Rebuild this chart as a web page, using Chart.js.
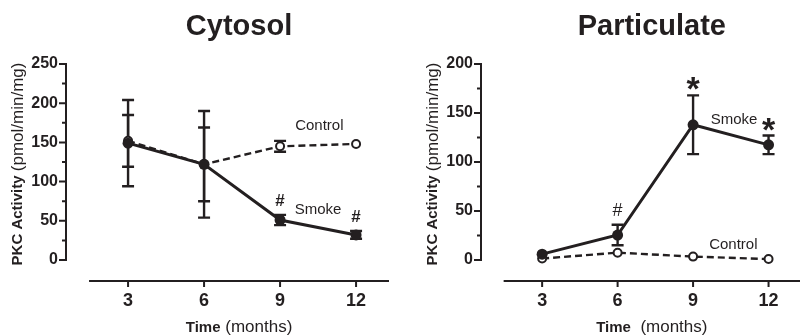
<!DOCTYPE html>
<html>
<head>
<meta charset="utf-8">
<script src="https://cdn.jsdelivr.net/npm/chart.js@4.4.0/dist/chart.umd.min.js"></script>
<style>
  html, body { margin: 0; padding: 0; background: #fff; }
  .panel { position: absolute; top: 0; width: 403px; height: 335px; }
  #left { left: 0; }
  #right { left: 403px; }
</style>
</head>
<body>
<div class="panel" id="left"><canvas id="cytosol" width="403" height="335"></canvas></div>
<div class="panel" id="right"><canvas id="particulate" width="403" height="335"></canvas></div>
<script>
// time points (months)
const months = [3, 6, 9, 12];

// Cytosol panel
const cytoSmoke = [149, 122, 51, 32];
const cytoSmokeErr = [55, 68, 6.5, 5];
const cytoControl = [152, 122, 145, 148];
const cytoControlErr = [33, 47, 7, 0];
const cytoSig = ['', '', '#', '#'];
const cytoYTicks = [0, 50, 100, 150, 200, 250];

// Particulate panel
const partSmoke = [6, 25.5, 138, 117.5];
const partSmokeErr = [0, 10.5, 30, 9.5];
const partControl = [1.5, 7.5, 3.5, 1];
const partControlErr = [0, 0, 0, 0];
const partSig = ['', '#', '*', '*'];
const partYTicks = [0, 50, 100, 150, 200];

const ink = '#231f20';
const FONT = '"Liberation Sans", Arial, sans-serif';

function points(ys) {
    return months.map(function (m, i) { return { x: m, y: ys[i] }; });
}

function panelPlugin(cfg) {
    return {
        id: 'panel_' + cfg.title,
        beforeDatasetsDraw: function (chart) {
            const ctx = chart.ctx, xs = chart.scales.x, ys = chart.scales.y;
            ctx.save();
            ctx.strokeStyle = ink;
            ctx.lineWidth = 2.4;
            cfg.series.forEach(function (s) {
                s.values.forEach(function (v, i) {
                    const e = s.err[i];
                    if (!e) return;
                    const px = xs.getPixelForValue(months[i]);
                    const top = ys.getPixelForValue(v + e);
                    const bot = ys.getPixelForValue(v - e);
                    ctx.beginPath();
                    ctx.moveTo(px, top); ctx.lineTo(px, bot);
                    ctx.moveTo(px - 6, top); ctx.lineTo(px + 6, top);
                    ctx.moveTo(px - 6, bot); ctx.lineTo(px + 6, bot);
                    ctx.stroke();
                });
            });
            ctx.restore();
        },
        afterDraw: function (chart) {
            const ctx = chart.ctx, xs = chart.scales.x, ys = chart.scales.y;
            const area = chart.chartArea;
            const yTicks = cfg.yTicks;
            const yMax = yTicks[yTicks.length - 1];
            ctx.save();
            ctx.strokeStyle = ink;
            ctx.fillStyle = ink;
            ctx.lineWidth = 2;

            // y axis with major and minor ticks
            ctx.beginPath();
            ctx.moveTo(area.left, ys.getPixelForValue(0) + 1);
            ctx.lineTo(area.left, ys.getPixelForValue(yMax) - 1);
            yTicks.forEach(function (v, i) {
                let py = ys.getPixelForValue(v);
                ctx.moveTo(area.left, py); ctx.lineTo(area.left - 7, py);
                if (i > 0) {
                    py = ys.getPixelForValue((v + yTicks[i - 1]) / 2);
                    ctx.moveTo(area.left, py); ctx.lineTo(area.left - 4, py);
                }
            });
            ctx.stroke();

            // x axis, offset from the y axis
            ctx.beginPath();
            ctx.moveTo(xs.getPixelForValue(cfg.xLineStart), area.bottom);
            ctx.lineTo(area.right, area.bottom);
            months.forEach(function (m) {
                const px = xs.getPixelForValue(m);
                ctx.moveTo(px, area.bottom); ctx.lineTo(px, area.bottom + 6);
            });
            ctx.stroke();

            const midX = (xs.getPixelForValue(cfg.xLineStart) + area.right) / 2;

            // panel title
            ctx.font = 'bold 29px ' + FONT;
            ctx.textAlign = 'center';
            ctx.textBaseline = 'alphabetic';
            ctx.fillText(cfg.title, midX, 35);

            // x axis title: bold + regular parts
            ctx.textAlign = 'left';
            ctx.font = 'bold 15px ' + FONT;
            const a = 'Time';
            const wa = ctx.measureText(a).width;
            ctx.font = '17px ' + FONT;
            const b = cfg.xUnit;
            const wb = ctx.measureText(b).width;
            let x0 = midX - (wa + wb) / 2;
            ctx.font = 'bold 15px ' + FONT;
            ctx.fillText(a, x0, 332);
            ctx.font = '17px ' + FONT;
            ctx.fillText(b, x0 + wa, 332);

            // y axis title, rotated
            ctx.save();
            ctx.translate(area.left - 48, 164);
            ctx.rotate(-Math.PI / 2);
            ctx.textBaseline = 'middle';
            ctx.font = 'bold 15px ' + FONT;
            const c = 'PKC Activity ';
            const wc = ctx.measureText(c).width;
            ctx.font = '17px ' + FONT;
            const d = '(pmol/min/mg)';
            const wd = ctx.measureText(d).width;
            x0 = -(wc + wd) / 2;
            ctx.font = 'bold 15px ' + FONT;
            ctx.fillText(c, x0, 0);
            ctx.font = '17px ' + FONT;
            ctx.fillText(d, x0 + wc, 0);
            ctx.restore();

            // significance marks above the smoke error bars
            ctx.textAlign = 'center';
            cfg.sig.forEach(function (s, i) {
                if (!s) return;
                const px = xs.getPixelForValue(months[i]);
                const top = ys.getPixelForValue(cfg.series[0].values[i] + cfg.series[0].err[i]);
                if (s === '*') {
                    ctx.font = 'bold 34px ' + FONT;
                    ctx.textBaseline = 'alphabetic';
                    ctx.fillText(s, px, top + 5);
                } else {
                    ctx.font = cfg.hashFont;
                    ctx.textBaseline = 'middle';
                    ctx.fillText(s, px, top - 14);
                }
            });

            // series labels
            ctx.font = '15px ' + FONT;
            ctx.textBaseline = 'middle';
            cfg.labels.forEach(function (l) {
                ctx.fillText(l.text, xs.getPixelForValue(l.x), ys.getPixelForValue(l.y));
            });
            ctx.restore();
        }
    };
}

function makeChart(id, cfg) {
    return new Chart(document.getElementById(id), {
        type: 'line',
        data: {
            datasets: [{
                label: 'Smoke',
                data: points(cfg.series[0].values),
                borderColor: ink,
                borderWidth: 3,
                pointRadius: 5.5,
                pointBackgroundColor: ink,
                pointBorderColor: ink,
                pointBorderWidth: 0,
                tension: 0
            }, {
                label: 'Control',
                data: points(cfg.series[1].values),
                borderColor: ink,
                borderWidth: 2.4,
                borderDash: [7, 4],
                pointRadius: 4,
                pointBackgroundColor: '#fff',
                pointBorderColor: ink,
                pointBorderWidth: 2,
                tension: 0
            }]
        },
        options: {
            responsive: false,
            animation: false,
            layout: { padding: { top: 64, right: cfg.padRight, left: 0, bottom: 0 } },
            plugins: { legend: { display: false }, tooltip: { enabled: false }, title: { display: false } },
            scales: {
                x: {
                    type: 'linear',
                    min: cfg.xMin,
                    max: cfg.xMax,
                    grid: { display: false, drawTicks: false },
                    border: { display: false },
                    afterBuildTicks: function (s) { s.ticks = months.map(function (m) { return { value: m }; }); },
                    afterFit: function (s) { s.height = 54; },
                    ticks: { color: ink, padding: 9, font: { family: FONT, size: 18, weight: 'bold' } }
                },
                y: {
                    min: cfg.yMin,
                    max: cfg.yTicks[cfg.yTicks.length - 1],
                    grid: { display: false, drawTicks: false },
                    border: { display: false },
                    afterBuildTicks: function (s) { s.ticks = cfg.yTicks.map(function (v) { return { value: v }; }); },
                    afterFit: function (s) { s.width = cfg.yWidth; },
                    ticks: { color: ink, padding: 8, font: { family: FONT, size: 16, weight: 'bold' } }
                }
            }
        },
        plugins: [panelPlugin(cfg)]
    });
}

makeChart('cytosol', {
    title: 'Cytosol',
    xUnit: ' (months)',
    series: [{ values: cytoSmoke, err: cytoSmokeErr }, { values: cytoControl, err: cytoControlErr }],
    sig: cytoSig,
    hashFont: 'bold 17px ' + FONT,
    yTicks: cytoYTicks,
    yMin: -26.8,
    xMin: 0.55, xMax: 13.3, xLineStart: 1.46,
    yWidth: 66, padRight: 14,
    labels: [{ text: 'Control', x: 10.55, y: 171 }, { text: 'Smoke', x: 10.5, y: 64 }]
});

makeChart('particulate', {
    title: 'Particulate',
    xUnit: '  (months)',
    series: [{ values: partSmoke, err: partSmokeErr }, { values: partControl, err: partControlErr }],
    sig: partSig,
    hashFont: '18px ' + FONT,
    yTicks: partYTicks,
    yMin: -21.4,
    xMin: 0.57, xMax: 13.25, xLineStart: 1.47,
    yWidth: 78, padRight: 1,
    labels: [{ text: 'Smoke', x: 10.63, y: 143 }, { text: 'Control', x: 10.6, y: 15.3 }]
});
</script>
</body>
</html>
